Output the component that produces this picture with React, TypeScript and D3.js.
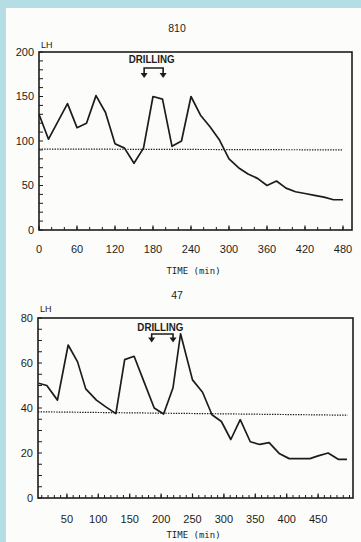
import React from "react";
import * as d3 from "d3";

// patient 810: LH vs time (min)
const timeTop = [0, 15, 45, 60, 75, 90, 105, 120, 135, 150, 165, 180, 195, 210, 225, 240, 255, 270, 285, 300, 315, 330, 345, 360, 375, 390, 405, 420, 435, 450, 465, 480];
const lhTop = [130, 102, 142, 115, 120, 151, 132, 97, 92, 75, 92, 150, 147, 94, 100, 150, 129, 116, 101, 80, 70, 63, 58, 50, 55, 47, 43, 41, 39, 37, 34, 34];
const baseTop = [91, 90]; // dotted baseline, start/end
const drillTop = [166, 196];
const xTicksTop = [0, 60, 120, 180, 240, 300, 360, 420, 480];
const yTicksTop = [0, 50, 100, 150, 200];

// patient 47
const timeBot = [5, 18, 35, 52, 67, 80, 97, 112, 128, 142, 157, 173, 189, 204, 219, 231, 250, 266, 281, 296, 311, 326, 342, 357, 372, 388, 404, 437, 450, 466, 482, 496];
const lhBot = [51, 50, 43.5, 68, 60.5, 48.5, 43.5, 40.5, 37.5, 61.5, 63, 51.5, 40, 37.3, 49, 73, 52.5, 47, 37, 34, 26, 34.8, 25, 23.8, 24.6, 19.8, 17.5, 17.5, 18.7, 20, 17.2, 17.2];
const baseBot = [38.3, 36.8];
const drillBot = [185, 219];
const xTicksBot = [50, 100, 150, 200, 250, 300, 350, 400, 450];
const yTicksBot = [0, 20, 40, 60, 80];

const INK = "#1c1c1c";
const tickFont = "'Liberation Sans', Arial, sans-serif";
const monoFont = "'DejaVu Sans Mono', 'Liberation Mono', monospace";

type PanelProps = {
  title: string;
  titleY: number;
  frame: { left: number; right: number; top: number; bottom: number };
  xDomain: [number, number];
  xRange: [number, number];
  yMax: number;
  times: number[];
  values: number[];
  base: number[];
  baseEnd: number;
  drill: number[];
  drillY: [number, number, number]; // label baseline, bar y, arrow tip
  xTicks: number[];
  yTicks: number[];
  xMinorStep: number;
  yMinorStep: number;
  xLabelY: number;
  axisTitleY: number;
  lhY: number;
};

function Panel(p: PanelProps) {
  const { frame } = p;
  const x = d3.scaleLinear().domain(p.xDomain).range(p.xRange);
  const y = d3.scaleLinear().domain([0, p.yMax]).range([frame.bottom, frame.top]);
  const pts = p.times.map((t, i) => [x(t), y(p.values[i])] as [number, number]);
  const line = d3.line()(pts) || "";

  const xMinor = d3.range(Math.ceil(x.invert(frame.left) / p.xMinorStep) * p.xMinorStep, x.invert(frame.right), p.xMinorStep);
  const yMinor = d3.range(0, p.yMax + 0.01, p.yMinorStep);
  const cx = (frame.left + frame.right) / 2;

  const [d0, d1] = p.drill.map(x);
  const [labY, barY, tipY] = p.drillY;

  return (
    <g>
      <text x={177} y={p.titleY} fontFamily={tickFont} fontSize={10.5} textAnchor="middle" fill={INK}>{p.title}</text>
      <text x={frame.left + 2} y={p.lhY} fontFamily={tickFont} fontSize={9} fill={INK}>LH</text>

      {/* minor ticks, inward */}
      {xMinor.map((t) => (
        <line key={"xm" + t} x1={x(t)} x2={x(t)} y1={frame.bottom} y2={frame.bottom - 3} stroke={INK} strokeWidth={1} />
      ))}
      {p.xTicks.map((t) => (
        <line key={"xM" + t} x1={x(t)} x2={x(t)} y1={frame.bottom} y2={frame.bottom - 4.5} stroke={INK} strokeWidth={1.2} />
      ))}
      {yMinor.map((v) => (
        <line key={"ym" + v} x1={frame.left} x2={frame.left + 4} y1={y(v)} y2={y(v)} stroke={INK} strokeWidth={1} />
      ))}

      {/* frame */}
      <rect x={frame.left} y={frame.top} width={frame.right - frame.left} height={frame.bottom - frame.top} fill="none" stroke={INK} strokeWidth={1.6} />

      {/* tick labels */}
      {p.yTicks.map((v) => (
        <text key={"yl" + v} x={frame.left - 5} y={y(v)} dy="0.35em" textAnchor="end" fontFamily={tickFont} fontSize={11} fill={INK}>{v}</text>
      ))}
      {p.xTicks.map((t) => (
        <text key={"xl" + t} x={x(t)} y={p.xLabelY} textAnchor="middle" fontFamily={tickFont} fontSize={11} fill={INK}>{t}</text>
      ))}
      <text x={cx - 2} y={p.axisTitleY} textAnchor="middle" fontFamily={monoFont} fontSize={9} fill={INK}>TIME (min)</text>

      {/* dotted baseline */}
      <line x1={frame.left} x2={x(p.baseEnd)} y1={y(p.base[0])} y2={y(p.base[1])} stroke={INK} strokeWidth={1.2} strokeDasharray="1.4,1.2" />

      {/* data */}
      <path d={line} fill="none" stroke={INK} strokeWidth={1.7} strokeLinejoin="round" />

      {/* drilling annotation */}
      <text x={(d0 + d1) / 2 - 2} y={labY} textAnchor="middle" fontFamily={tickFont} fontWeight="bold" fontSize={10.5} textLength={46} lengthAdjust="spacingAndGlyphs" fill={INK}>DRILLING</text>
      <path d={`M${d0},${tipY - 3} L${d0},${barY} L${d1},${barY} L${d1},${tipY - 3}`} fill="none" stroke={INK} strokeWidth={1.6} />
      {[d0, d1].map((dx) => (
        <path key={"ar" + dx} d={`M${dx - 3.5},${tipY - 5} L${dx + 3.5},${tipY - 5} L${dx},${tipY} Z`} fill={INK} />
      ))}
    </g>
  );
}

export default function App() {
  return (
    <div style={{ position: "absolute", left: 0, top: 0 }}>
      <svg width={361} height={542} style={{ display: "block" }}>
        <rect x={0} y={0} width={361} height={542} fill="#b4dde4" />
        <rect x={6} y={8} width={355} height={534} fill="#fcfcfa" />
        <Panel
          title="810"
          titleY={32}
          frame={{ left: 39, right: 352, top: 52, bottom: 230 }}
          xDomain={[0, 480]}
          xRange={[39, 343]}
          yMax={200}
          times={timeTop}
          values={lhTop}
          base={baseTop}
          baseEnd={480}
          drill={drillTop}
          drillY={[63, 68, 78]}
          xTicks={xTicksTop}
          yTicks={yTicksTop}
          xMinorStep={20}
          yMinorStep={10}
          xLabelY={253}
          axisTitleY={274}
          lhY={48}
        />
        <Panel
          title="47"
          titleY={299}
          frame={{ left: 38, right: 353, top: 318, bottom: 498 }}
          xDomain={[0, 500]}
          xRange={[35.5, 349.5]}
          yMax={80}
          times={timeBot}
          values={lhBot}
          base={baseBot}
          baseEnd={497}
          drill={drillBot}
          drillY={[330.5, 334, 342.5]}
          xTicks={xTicksBot}
          yTicks={yTicksBot}
          xMinorStep={10}
          yMinorStep={5}
          xLabelY={523}
          axisTitleY={538}
          lhY={312}
        />
      </svg>
    </div>
  );
}
